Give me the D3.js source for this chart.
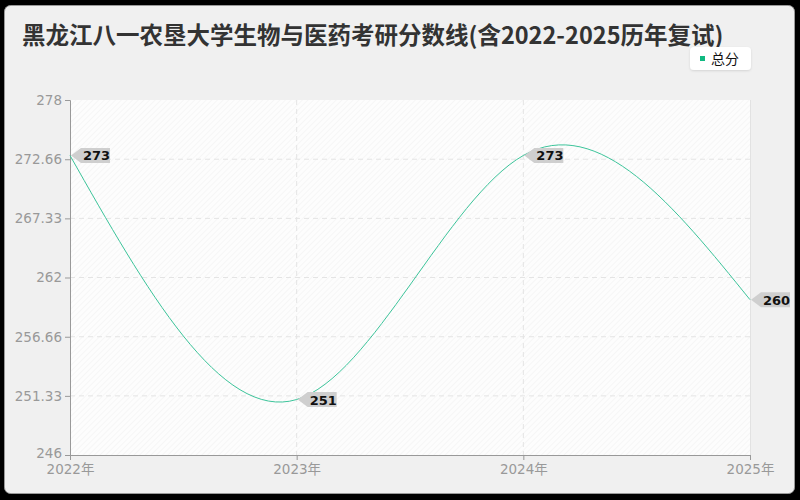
<!DOCTYPE html>
<html>
<head>
<meta charset="utf-8">
<script src="https://cdn.jsdelivr.net/npm/d3@7"></script>
<style>
  html, body { margin: 0; padding: 0; background: #000; }
  svg { display: block; }
</style>
</head>
<body>
<svg id="chart" width="800" height="500"></svg>
<script>
// 数据
var years = ["2022年", "2023年", "2024年", "2025年"];
var scores = [273, 251, 273, 260];
var yTicks = [246, 251.33, 256.66, 262, 267.33, 272.66, 278];
var seriesName = "总分";
var title = "黑龙江八一农垦大学生物与医药考研分数线(含2022-2025历年复试)";

var width = 800, height = 500;
var margin = { top: 100, right: 50, bottom: 45, left: 70 };
var lineColor = "#3cc49a";

var svg = d3.select("#chart");

/* 外框 */
svg.append("rect")
    .attr("x", 4.5).attr("y", 5.5)
    .attr("width", 790).attr("height", 488)
    .attr("rx", 6)
    .attr("fill", "#f0f0f0")
    .attr("stroke", "#9a9a9a")
    .attr("stroke-width", 1);

/* 斜线底纹 */
var defs = svg.append("defs");
var pat = defs.append("pattern")
    .attr("id", "hatch")
    .attr("patternUnits", "userSpaceOnUse")
    .attr("width", 4).attr("height", 4)
    .attr("patternTransform", "rotate(45)");
pat.append("rect").attr("width", 4).attr("height", 4).attr("fill", "#fdfdfd");
pat.append("line")
    .attr("x1", 0).attr("y1", 0).attr("x2", 0).attr("y2", 4)
    .attr("stroke", "#f2f2f2").attr("stroke-width", 1.2);

var shadow = defs.append("filter").attr("id", "shadow")
    .attr("x", "-20%").attr("y", "-20%").attr("width", "140%").attr("height", "150%");
shadow.append("feDropShadow")
    .attr("dx", 0).attr("dy", 1).attr("stdDeviation", 1)
    .attr("flood-color", "#000").attr("flood-opacity", 0.12);

var x = d3.scalePoint()
    .domain(years)
    .range([margin.left, width - margin.right]);

var y = d3.scaleLinear()
    .domain([246, 278])
    .range([height - margin.bottom, margin.top]);

svg.append("rect")
    .attr("x", margin.left).attr("y", margin.top)
    .attr("width", width - margin.left - margin.right)
    .attr("height", height - margin.top - margin.bottom)
    .attr("fill", "url(#hatch)");

/* 网格线 */
svg.append("g")
    .selectAll("line")
    .data(yTicks.slice(1, -1))
    .enter()
    .append("line")
    .attr("x1", margin.left).attr("x2", width - margin.right)
    .attr("y1", function(d) { return y(d); })
    .attr("y2", function(d) { return y(d); })
    .attr("stroke", "#e4e4e4")
    .attr("stroke-dasharray", "5,4");

svg.append("g")
    .selectAll("line")
    .data(years.slice(1, -1))
    .enter()
    .append("line")
    .attr("x1", function(d) { return x(d); })
    .attr("x2", function(d) { return x(d); })
    .attr("y1", margin.top).attr("y2", height - margin.bottom)
    .attr("stroke", "#e4e4e4")
    .attr("stroke-dasharray", "5,4");

svg.append("line")
    .attr("x1", width - margin.right + 0.5).attr("x2", width - margin.right + 0.5)
    .attr("y1", margin.top).attr("y2", height - margin.bottom)
    .attr("stroke", "#e2e2e2");

/* 坐标轴 */
var yAxis = svg.append("g")
    .attr("transform", "translate(" + margin.left + ",0)")
    .call(d3.axisLeft(y).tickValues(yTicks).tickSize(5).tickPadding(3)
        .tickFormat(function(d) { return String(d); }));

var xAxis = svg.append("g")
    .attr("transform", "translate(0," + (height - margin.bottom) + ")")
    .call(d3.axisBottom(x).tickSize(5).tickPadding(4));

[yAxis, xAxis].forEach(function(a) {
    a.select(".domain").attr("stroke", "#999");
    a.selectAll(".tick line").attr("stroke", "#999");
    a.selectAll("text")
        .attr("fill", "#999")
        .attr("font-size", "13.5px")
        .attr("font-family", "'DejaVu Sans', 'Noto Sans CJK SC', sans-serif");
});
yAxis.select(".tick:first-of-type text").attr("dy", "0.2em");

/* 折线 */
var line = d3.line()
    .x(function(d, i) { return x(years[i]); })
    .y(function(d) { return y(d); })
    .curve(d3.curveNatural);

svg.append("path")
    .datum(scores)
    .attr("d", line)
    .attr("fill", "none")
    .attr("stroke", lineColor)
    .attr("stroke-width", 1);

/* 数据标签 */
var labels = svg.append("g")
    .selectAll("g")
    .data(scores)
    .enter()
    .append("g")
    .attr("transform", function(d, i) {
        return "translate(" + x(years[i]) + "," + y(d) + ")";
    });

labels.append("path")
    .attr("d", "M1,0 L11,-7.5 L40,-7.5 L40,7.5 L11,7.5 Z")
    .attr("fill", "#cfcfcf");

labels.append("text")
    .attr("x", 13).attr("y", 5)
    .attr("font-size", "13px")
    .attr("font-weight", "bold")
    .attr("font-family", "'DejaVu Sans', sans-serif")
    .attr("fill", "#111")
    .text(function(d) { return d; });

/* 标题 */
svg.append("text")
    .attr("x", 22).attr("y", 44)
    .attr("font-size", "23.5px")
    .attr("font-weight", "bold")
    .attr("font-family", "'Noto Sans CJK SC', sans-serif")
    .attr("fill", "#333")
    .text(title);

/* 图例 */
var legend = svg.append("g").attr("transform", "translate(690,47)");
legend.append("rect")
    .attr("width", 61).attr("height", 23)
    .attr("rx", 4)
    .attr("fill", "#fff")
    .attr("filter", "url(#shadow)");
legend.append("rect")
    .attr("x", 10).attr("y", 9)
    .attr("width", 5).attr("height", 5)
    .attr("fill", "#10b981");
legend.append("text")
    .attr("x", 21).attr("y", 17)
    .attr("font-size", "14px")
    .attr("font-family", "'Noto Sans CJK SC', sans-serif")
    .attr("fill", "#111")
    .text(seriesName);
</script>
</body>
</html>
